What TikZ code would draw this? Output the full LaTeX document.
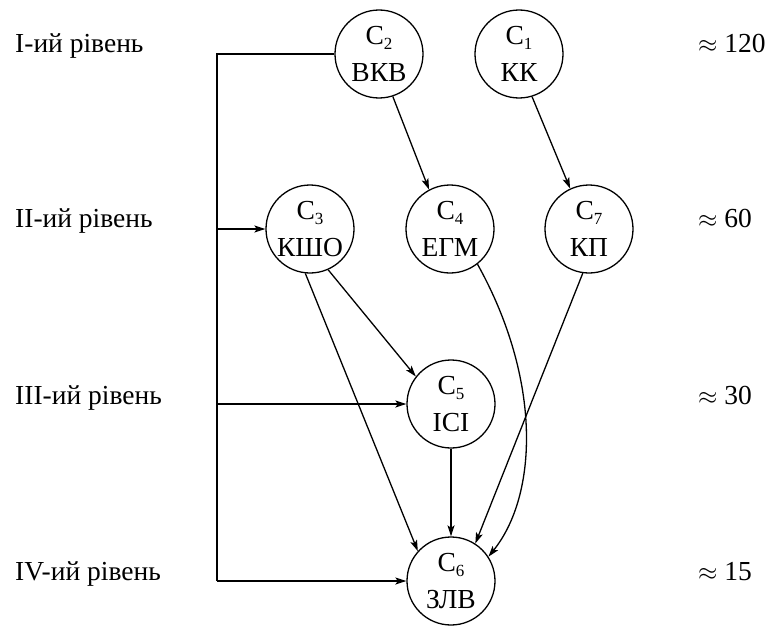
\documentclass[tikz,border=0pt]{standalone}
\usepackage{fontspec}
\setmainfont{Liberation Serif}
\usetikzlibrary{arrows.meta}
\newcommand{\csub}[1]{C\raisebox{-0.4ex}{\fontsize{17}{17}\selectfont #1}}
\begin{document}
\begin{tikzpicture}[x=1pt,y=-1pt,
  stage/.style={circle,draw,line width=1.3pt,minimum size=88pt,inner sep=0pt,
    align=center,font=\fontsize{27.5}{37}\selectfont},
  level/.style={anchor=base west,inner sep=0pt,font=\fontsize{27.5}{30}\selectfont},
  count/.style={anchor=base west,inner sep=0pt,font=\fontsize{27.5}{30}\selectfont},
  link/.style={line width=1.3pt,-{Stealth[length=11pt,width=7pt,inset=2.5pt]}},
  wire/.style={line width=1.3pt}]
\useasboundingbox (0,0) rectangle (779,626);

% stages
\node[stage] (c2) at (379,54) {\csub{2}\\ВКВ};
\node[stage] (c1) at (519,54) {\csub{1}\\КК};
\node[stage] (c3) at (310,229) {\csub{3}\\КШО};
\node[stage] (c4) at (450,229) {\csub{4}\\ЕГМ};
\node[stage] (c7) at (589,229) {\csub{7}\\КП};
\node[stage] (c5) at (451,404) {\csub{5}\\ІСІ};
\node[stage] (c6) at (451,581) {\csub{6}\\ЗЛВ};

% level captions
\node[level] (l1) at (15,53) {І-ий рівень};
\node[level] (l2) at (15,227) {ІІ-ий рівень};
\node[level] (l3) at (15,404) {ІІІ-ий рівень};
\node[level] (l4) at (15,580) {ІV-ий рівень};

% approximate counts
\node[count] (n1) at (698,53) {$\approx$ 120};
\node[count] (n2) at (698,227) {$\approx$ 60};
\node[count] (n3) at (698,404) {$\approx$ 30};
\node[count] (n4) at (698,580) {$\approx$ 15};

% feedback bus on the left
\coordinate (b1) at (217,54);
\coordinate (b2) at (217,229);
\coordinate (b3) at (217,404);
\coordinate (b4) at (217,581);
\draw[wire] (c2.west) -- (b1) -- (b4);
\draw[link] (b2) -- (c3.west);
\draw[link] (b3) -- (c5.west);
\draw[link] (b4) -- (c6.west);

% dependencies between stages
\draw[link] (c2.-72) -- (c4.118);
\draw[link] (c1.-73) -- (c7.115);
\draw[link] (c3.-66) -- (c5.142);
\draw[link] (c3.-96) -- (c6.138);
\draw[link] (c5.south) -- (c6.north);
\draw[link] (c7.-98) -- (c6.57);
\draw[link] (c4.-52) .. controls (542,380) and (538,495) .. (c6.33);
\end{tikzpicture}
\end{document}
